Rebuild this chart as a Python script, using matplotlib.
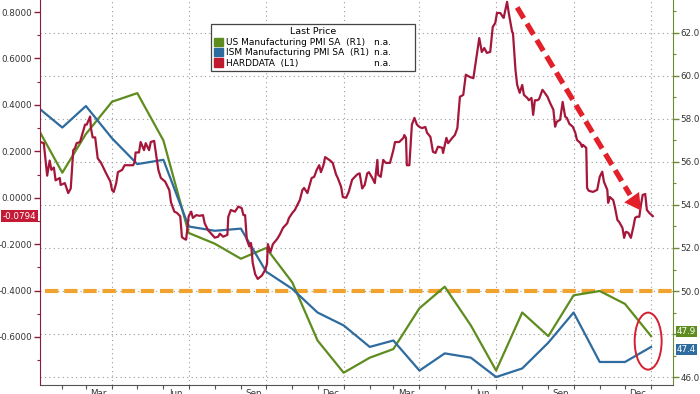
import matplotlib
matplotlib.use("Agg")
import numpy as np
import pandas as pd
import matplotlib.pyplot as plt
import matplotlib.dates as mdates
from matplotlib.patches import Patch, Ellipse
from matplotlib.transforms import blended_transform_factory

plt.rcParams['font.family'] = ['DejaVu Sans']
plt.rcParams['axes.unicode_minus'] = False

# monthly PMI readings (month end), Dec 2021 .. Dec 2023
pmi_dates = pd.date_range('2021-12-31', '2023-12-31', freq='ME')
us_pmi = [57.7, 55.5, 57.3, 58.8, 59.2, 57.0, 52.7, 52.2, 51.5, 52.0, 50.4, 47.7,
          46.2, 46.9, 47.3, 49.2, 50.2, 48.4, 46.3, 49.0, 47.9, 49.8, 50.0, 49.4, 47.9]
ism_pmi = [58.6, 57.6, 58.6, 57.1, 55.9, 56.1, 53.0, 52.8, 52.9, 50.9, 50.1, 49.0,
           48.4, 47.4, 47.7, 46.3, 47.1, 46.9, 46.0, 46.4, 47.6, 49.0, 46.7, 46.7, 47.4]

# HARDDATA index, days counted from 2022-01-01
hard_days = [4, 8, 12, 15, 17, 20, 22, 27, 28, 33, 37, 39, 40, 43, 45, 47, 51, 55, 57, 59,
             63, 64, 66, 69, 72, 76, 82, 87, 89, 91, 94, 96, 101, 104, 108, 114, 116, 117, 121, 123,
             127, 129, 133, 135, 139, 141, 144, 147, 152, 157, 159, 163, 166, 170, 172, 176, 177, 180, 183, 185,
             189, 193, 197, 199, 203, 208, 211, 215, 217, 221, 226, 227, 230, 235, 239, 243, 245, 247, 249, 252,
             254, 256, 259, 262, 267, 271, 273, 274, 277, 280, 285, 288, 292, 297, 299, 303, 306, 309, 312, 315,
             317, 321, 323, 326, 329, 332, 335, 337, 340, 342, 344, 348, 351, 355, 357, 361, 363, 367, 370, 374,
             376, 380, 383, 386, 389, 392, 394, 398, 401, 404, 405, 408, 411, 414, 419, 423, 425, 430, 435, 436,
             438, 439, 442, 445, 448, 451, 454, 457, 461, 463, 467, 470, 473, 476, 481, 482, 486, 488, 493, 496,
             499, 500, 502, 506, 509, 514, 518, 522, 525, 528, 531, 534, 538, 541, 544, 546, 550, 553, 554, 558,
             560, 564, 565, 568, 570, 573, 576, 578, 582, 584, 587, 589, 591, 594, 596, 600, 602, 606, 609, 613,
             615, 617, 621, 624, 627, 629, 632, 636, 639, 641, 645, 647, 648, 652, 653, 655, 660, 665, 668, 671,
             673, 677, 678, 680, 684, 686, 689, 691, 695, 697, 699, 702, 705, 708, 710, 712, 715, 717, 719, 722,
             724, 727, 731]
hard_vals = [0.24, 0.235, 0.095, 0.16, 0.12, 0.13, 0.075, 0.085, 0.055, 0.063, 0.02, 0.033, 0.04, 0.205, 0.213, 0.235, 0.24, 0.29, 0.315, 0.315,
             0.35, 0.30, 0.26, 0.26, 0.17, 0.15, 0.105, 0.07, 0.033, 0.025, 0.063, 0.11, 0.12, 0.14, 0.14, 0.14, 0.155, 0.195, 0.195, 0.24,
             0.205, 0.235, 0.205, 0.24, 0.245, 0.195, 0.12, 0.085, 0.07, 0.033, -0.02, -0.06, -0.065, -0.08, -0.17, -0.18, -0.18, -0.08, -0.06, -0.087,
             -0.075, -0.078, -0.075, -0.11, -0.14, -0.16, -0.172, -0.168, -0.155, -0.168, -0.16, -0.083, -0.053, -0.06, -0.038, -0.045, -0.075, -0.075, -0.18, -0.21,
             -0.195, -0.28, -0.33, -0.35, -0.335, -0.31, -0.285, -0.2, -0.235, -0.2, -0.178, -0.16, -0.13, -0.11, -0.088, -0.066, -0.053, -0.032, -0.01, 0.033,
             0.042, 0.02, 0.047, 0.085, 0.09, 0.12, 0.14, 0.11, 0.14, 0.175, 0.17, 0.16, 0.15, 0.1, 0.085, 0.047, 0.003, 0.0, 0.025, 0.077,
             0.085, 0.1, 0.105, 0.04, 0.055, 0.105, 0.11, 0.085, 0.063, 0.163, 0.098, 0.09, 0.163, 0.15, 0.15, 0.205, 0.24, 0.24, 0.258, 0.27,
             0.258, 0.14, 0.14, 0.315, 0.344, 0.315, 0.305, 0.30, 0.305, 0.28, 0.262, 0.198, 0.193, 0.22, 0.215, 0.193, 0.258, 0.235, 0.258, 0.27,
             0.30, 0.344, 0.435, 0.443, 0.53, 0.52, 0.515, 0.615, 0.688, 0.628, 0.645, 0.624, 0.628, 0.736, 0.753, 0.796, 0.796, 0.779, 0.775, 0.844,
             0.796, 0.715, 0.71, 0.55, 0.486, 0.452, 0.486, 0.443, 0.43, 0.42, 0.43, 0.357, 0.42, 0.42, 0.425, 0.465, 0.456, 0.435, 0.409, 0.379,
             0.306, 0.327, 0.336, 0.413, 0.349, 0.344, 0.318, 0.306, 0.28, 0.249, 0.236, 0.219, 0.228, 0.215, 0.042, 0.03, 0.025, 0.034, 0.09, 0.112,
             0.069, 0.034, -0.022, 0.003, -0.01, -0.04, -0.096, -0.104, -0.13, -0.173, -0.147, -0.151, -0.173, -0.125, -0.087, -0.082, -0.082, -0.03, 0.012, 0.016,
             -0.053, -0.066, -0.0794]

start = np.datetime64('2022-01-01')
hard_dates = start + np.array(hard_days).astype('timedelta64[D]')

quarter_ends = pd.to_datetime(['2022-03-31', '2022-06-30', '2022-09-30', '2022-12-31',
                               '2023-03-31', '2023-06-30', '2023-09-30', '2023-12-31'])
label_dates = pd.to_datetime(['2022-03-15', '2022-06-15', '2022-09-15', '2022-12-15',
                              '2023-03-15', '2023-06-15', '2023-09-15', '2023-12-15'])
month_labels = ['Mar', 'Jun', 'Sep', 'Dec', 'Mar', 'Jun', 'Sep', 'Dec']
month_ends = pd.date_range('2022-01-31', '2023-12-31', freq='ME')

# right axis ticks; 48.0 sits under the last-value tag
pmi_ticks = [46, 48, 50, 52, 54, 56, 58, 60, 62]
pmi_tick_labels = ['46.0', '', '50.0', '52.0', '54.0', '56.0', '58.0', '60.0', '62.0']

GREEN = '#5e8c1f'
BLUE = '#2e6b9e'
RED = '#a5173a'
ORANGE = '#f0a32e'
ARROW = '#e3202a'
GRID = '#9a9a9a'

fig = plt.figure(figsize=(7, 3.94), dpi=100)
ax = fig.add_axes([40 / 700, 9 / 394, 633 / 700, 385 / 394])
ax2 = ax.twinx()
# twinx puts the first axes' ticks on the left, so swap them back
ax.yaxis.tick_right()
ax.yaxis.set_label_position('right')
ax2.yaxis.tick_left()
ax2.yaxis.set_label_position('left')

d0 = mdates.date2num(start)
ax.set_xlim(d0 + 3.5, d0 + 755)
ax.set_ylim(45.63, 63.53)
ax2.set_ylim(-0.807, 0.852)

# grid
for q in quarter_ends:
    ax.axvline(q, color=GRID, lw=0.8, dashes=(1, 3), zorder=0)
for v in pmi_ticks:
    ax.axhline(v, color=GRID, lw=0.8, dashes=(1, 3), zorder=0)

ax.axhline(50, xmin=0.008, color=ORANGE, lw=3, dashes=(3.2, 1.4), zorder=1)
ax.plot(pmi_dates, us_pmi, color=GREEN, lw=1.6, zorder=2)
ax.plot(pmi_dates, ism_pmi, color=BLUE, lw=1.6, zorder=2)

ax2.plot(hard_dates, hard_vals, color=RED, lw=1.6, zorder=2)

# trend arrow
a0 = (d0 + 570, 0.82)
a1 = (d0 + 704, 0.012)
tip = (d0 + 717, -0.055)
ax2.plot([a0[0], a1[0]], [a0[1], a1[1]], color=ARROW, lw=3.8, dashes=(2.4, 1.2),
         solid_capstyle='butt', zorder=3)
ax2.annotate('', xy=tip, xytext=a1,
             arrowprops=dict(arrowstyle='-|>,head_length=0.9,head_width=0.5',
                             color=ARROW, lw=0, mutation_scale=13, shrinkA=0, shrinkB=0),
             zorder=3)

# circle round the latest PMI prints
ax.add_patch(Ellipse((d0 + 725.5, 47.67), width=32, height=2.65, fill=False,
                     edgecolor='#d42030', lw=1.4, zorder=4))

# axes styling
for s in ['top', 'left']:
    ax.spines[s].set_visible(False)
for s in ['top', 'right', 'bottom']:
    ax2.spines[s].set_visible(False)
ax.spines['right'].set_color('#6f8a35')
ax.spines['bottom'].set_color('#555555')
ax2.spines['left'].set_color('#8e1b3c')

ax.set_yticks(pmi_ticks)
ax.set_yticklabels(pmi_tick_labels)
ax.set_yticks(range(47, 64, 2), minor=True)
ax.tick_params(axis='y', which='major', length=4, width=1, color='#6f8a35',
               labelsize=6.3, labelcolor='#333333', pad=1.5)
ax.tick_params(axis='y', which='minor', length=2.5, width=0.8, color='#6f8a35')

ax2.set_yticks(np.arange(-0.6, 0.81, 0.2))
ax2.set_yticks(np.arange(-0.7, 0.81, 0.2), minor=True)
ax2.yaxis.set_major_formatter(plt.FormatStrFormatter('%.4f'))
ax2.tick_params(axis='y', which='major', length=4, width=1, color='#8e1b3c',
                labelsize=6.3, labelcolor='#333333', pad=1.5)
ax2.tick_params(axis='y', which='minor', length=2.5, width=0.8, color='#8e1b3c')

ax.set_xticks(label_dates)
ax.set_xticklabels(month_labels)
ax.set_xticks(month_ends, minor=True)
ax.tick_params(axis='x', which='major', length=0, labelsize=6.3, labelcolor='#333333', pad=3)
ax.tick_params(axis='x', which='minor', length=3, width=0.8, color='#555555')

# last value tags
tr_r = blended_transform_factory(ax.transAxes, ax.transData)
ax.text(1.006, us_pmi[-1] + 0.22, '%.1f' % us_pmi[-1], transform=tr_r, ha='left', va='center',
        fontsize=6.3, color='white', bbox=dict(boxstyle='square,pad=0.12', fc=GREEN, ec='none'))
ax.text(1.006, ism_pmi[-1] - 0.1, '%.1f' % ism_pmi[-1], transform=tr_r, ha='left', va='center',
        fontsize=6.3, color='white', bbox=dict(boxstyle='square,pad=0.12', fc=BLUE, ec='none'))
tr_l = blended_transform_factory(ax2.transAxes, ax2.transData)
ax2.text(-0.006, hard_vals[-1], '%.4f' % hard_vals[-1], transform=tr_l, ha='right', va='center',
         fontsize=6.3, color='white', bbox=dict(boxstyle='square,pad=0.2', fc='#c41a35', ec='none'))

# legend
handles = [Patch(color=GREEN), Patch(color=BLUE), Patch(color='#c0182f'),
           Patch(fc='none', ec='none'), Patch(fc='none', ec='none'), Patch(fc='none', ec='none')]
labels = ['US Manufacturing PMI SA  (R1)', 'ISM Manufacturing PMI SA  (R1)', 'HARDDATA  (L1)',
          'n.a.       ', 'n.a.       ', 'n.a.       ']
leg = ax2.legend(handles, labels, ncol=2, title='Last Price', loc='upper left',
                 bbox_to_anchor=(211 / 700, 1 - 24 / 394), bbox_transform=fig.transFigure,
                 borderaxespad=0, fontsize=6.5, title_fontsize=6.8, handlelength=1.0,
                 handleheight=1.0, handletextpad=0.3, columnspacing=-0.7, labelspacing=0.15,
                 borderpad=0.35, frameon=True, fancybox=False, framealpha=1)
leg.get_frame().set_edgecolor('#444444')
leg.get_frame().set_linewidth(0.9)
leg.set_zorder(10)

fig.savefig('out.png', dpi=100)
